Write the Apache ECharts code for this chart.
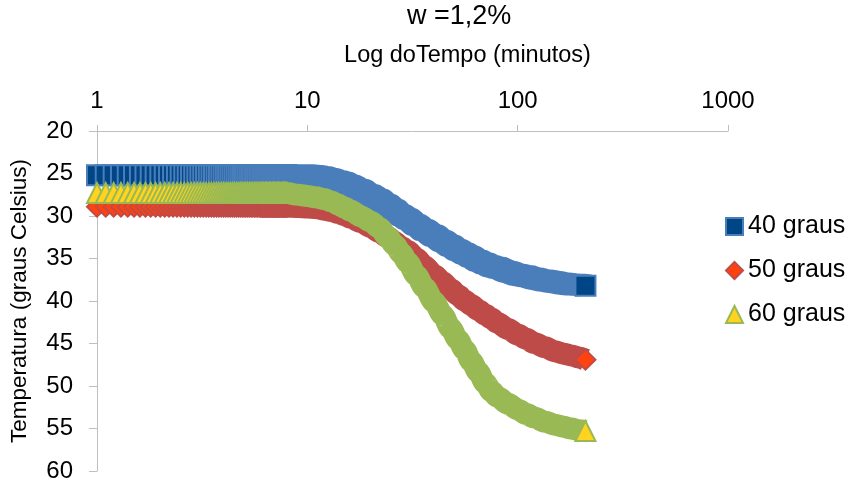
<!DOCTYPE html>
<html>
<head>
<meta charset="utf-8">
<script src="https://cdn.jsdelivr.net/npm/echarts@6/dist/echarts.min.js"></script>
<style>
html,body{margin:0;padding:0;background:#fff;}
#chart{width:852px;height:484px;}
</style>
</head>
<body>
<div id="chart"></div>
<script>
// Tempo (minutos) - leituras a cada 0,1 min no início, depois pontos lidos ao longo das curvas
const tempo = [
  1.0,1.1,1.2,1.3,1.4,1.5,1.6,1.7,1.8,1.9,
  2.0,2.1,2.2,2.3,2.4,2.5,2.6,2.7,2.8,2.9,
  3.0,3.1,3.2,3.3,3.4,3.5,3.6,3.7,3.8,3.9,
  4.0,4.1,4.2,4.3,4.4,4.5,4.6,4.7,4.8,4.9,
  5.0,5.1,5.2,5.3,5.4,5.5,5.6,5.7,5.8,5.9,
  6.0,6.1,6.2,6.3,6.4,6.5,6.6,6.7,6.8,6.9,
  7.0,7.1,7.2,7.3,7.4,7.5,7.6,7.7,7.8,7.9,
  8.0,
  9,10,11,12,13,14,15,16,
  18,20,22,24,26,28,30,
  33,36,40,44,48,52,56,60,
  65,70,75,80,90,100,
  110,120,135,150,165,180,195,210
];

const temp40 = [
  25.2,25.2,25.2,25.2,25.2,25.2,25.2,25.2,25.2,25.2,
  25.2,25.2,25.2,25.2,25.2,25.2,25.2,25.2,25.2,25.2,
  25.2,25.2,25.2,25.2,25.2,25.2,25.2,25.2,25.2,25.2,
  25.2,25.2,25.2,25.2,25.2,25.2,25.2,25.2,25.2,25.2,
  25.2,25.2,25.2,25.2,25.2,25.2,25.2,25.2,25.2,25.2,
  25.2,25.2,25.2,25.2,25.2,25.2,25.2,25.2,25.2,25.2,
  25.2,25.2,25.2,25.2,25.2,25.2,25.2,25.2,25.2,25.2,
  25.2,
  25.2,25.2,25.3,25.45,25.65,25.9,26.1,26.4,
  26.95,27.55,28.1,28.7,29.3,29.9,30.35,
  31.05,31.65,32.3,32.95,33.5,34.0,34.4,34.8,
  35.25,35.6,35.9,36.1,36.55,36.9,
  37.1,37.35,37.6,37.75,37.95,38.05,38.1,38.2
];

const temp50 = [
  28.9,28.9,28.9,28.9,28.9,28.9,28.9,28.9,28.9,28.9,
  28.9,28.9,28.9,28.9,28.9,28.9,28.9,28.9,28.9,28.9,
  28.9,28.9,28.9,28.9,28.9,28.9,28.9,28.9,28.9,28.9,
  28.9,28.9,28.9,28.9,28.9,28.9,28.9,28.9,28.9,28.9,
  28.9,28.9,28.9,28.9,28.9,28.9,28.9,28.9,28.9,28.9,
  28.9,28.9,28.9,28.9,28.9,28.9,28.9,28.9,28.9,28.9,
  28.9,28.9,28.9,28.9,28.9,28.9,28.9,28.9,28.9,28.9,
  28.9,
  28.95,29.0,29.05,29.25,29.4,29.65,29.9,30.2,
  30.7,31.3,31.9,32.45,33.05,33.65,34.1,
  35.0,35.9,36.9,37.75,38.6,39.3,39.95,40.45,
  41.05,41.6,42.05,42.55,43.3,43.95,
  44.45,44.95,45.45,45.9,46.2,46.4,46.65,46.9
];

const temp60 = [
  27.3,27.3,27.3,27.3,27.3,27.3,27.3,27.3,27.3,27.3,
  27.3,27.3,27.3,27.3,27.3,27.3,27.3,27.3,27.3,27.3,
  27.3,27.3,27.3,27.3,27.3,27.3,27.3,27.3,27.3,27.3,
  27.3,27.3,27.3,27.3,27.3,27.3,27.3,27.3,27.3,27.3,
  27.3,27.3,27.3,27.3,27.3,27.3,27.3,27.3,27.3,27.3,
  27.3,27.3,27.3,27.3,27.3,27.3,27.3,27.3,27.3,27.3,
  27.3,27.3,27.3,27.3,27.3,27.3,27.3,27.3,27.3,27.3,
  27.3,
  27.5,27.65,27.8,28.0,28.3,28.65,29.0,29.35,
  30.05,30.65,31.4,32.4,33.4,34.4,35.45,
  37.0,38.4,40.1,41.65,43.2,44.55,45.75,47.05,
  48.35,49.65,50.6,51.25,52.1,52.75,
  53.3,53.7,54.2,54.55,54.8,55.0,55.2,55.3
];

const nomesSeries = ['40 graus', '50 graus', '60 graus'];
const ticksY = [20, 25, 30, 35, 40, 45, 50, 55, 60];

const FONT = 'Liberation Sans';
// band: list of [lineWidth, shadowOffset] copies that imitate the sweep of overlapping markers
const estilos = [
  { symbol: 'rect',     fill: '#004586', line: '#4a7ebb', copias: [[10, -6], [10, 6]] },
  { symbol: 'diamond',  fill: '#ff420e', line: '#be4b48', copias: [[22, 0]] },
  { symbol: 'triangle', fill: '#ffd320', line: '#98b954', copias: [[22, 0]] }
];
const valores = [temp40, temp50, temp60];

const iInicioLinha = tempo.indexOf(6.0);
const iFimMarcadores = tempo.indexOf(8.0);

const series = [];
let z = 2;
valores.forEach((vals, k) => {
  const st = estilos[k];
  const pares = tempo.map((t, i) => [t, vals[i]]);
  const marcador = {
    symbol: st.symbol,
    symbolSize: 20,
    itemStyle: { color: st.fill, borderColor: st.line, borderWidth: 2, opacity: 1 },
    clip: false,
    silent: true
  };
  // marcadores individuais (trecho inicial onde se distinguem)
  series.push(Object.assign({
    name: nomesSeries[k],
    type: 'scatter',
    data: pares.slice(0, iFimMarcadores + 1),
    z: z++
  }, marcador));
  // faixa espessa formada pela sobreposição dos marcadores
  const linha = pares.slice(iInicioLinha);
  st.copias.forEach((c) => {
    const ls = { color: st.line, width: c[0], cap: 'butt', join: 'round' };
    if (c[1] !== 0) {
      ls.shadowColor = st.line;
      ls.shadowBlur = 0;
      ls.shadowOffsetX = c[1];
      ls.shadowOffsetY = -c[1];
    }
    series.push({
      name: nomesSeries[k],
      type: 'line',
      data: linha,
      smooth: 0.3,
      smoothMonotone: 'x',
      showSymbol: false,
      lineStyle: ls,
      itemStyle: { color: st.fill },
      clip: false,
      silent: true,
      z: z++
    });
  });
  // último ponto com o marcador completo
  series.push(Object.assign({
    name: nomesSeries[k],
    type: 'scatter',
    data: pares.slice(-1),
    z: z++
  }, marcador));
});

const chart = echarts.init(document.getElementById('chart'), null, { renderer: 'canvas' });
chart.setOption({
  animation: false,
  backgroundColor: '#ffffff',
  textStyle: { fontFamily: FONT },
  title: {
    text: 'w =1,2%',
    left: 407,
    top: 3,
    padding: 0,
    textStyle: { fontFamily: FONT, fontSize: 27, fontWeight: 'normal', color: '#000' }
  },
  legend: {
    data: nomesSeries,
    orient: 'vertical',
    left: 725,
    top: 214,
    itemWidth: 17,
    itemHeight: 17,
    itemGap: 19,
    itemTextGap: 4,
    padding: 0,
    selectedMode: false,
    textStyle: { fontFamily: FONT, fontSize: 25, color: '#000' }
  },
  grid: { left: 97, right: 124, top: 131, bottom: 13, containLabel: false },
  xAxis: {
    type: 'log',
    logBase: 10,
    min: 1,
    max: 1000,
    position: 'top',
    name: 'Log doTempo (minutos)',
    nameLocation: 'middle',
    nameGap: 63,
    nameTextStyle: { fontFamily: FONT, fontSize: 23.5, color: '#000', padding: [0, 0, 0, 110] },
    axisLine: { show: true, onZero: false, lineStyle: { color: '#bfbfbf', width: 1 } },
    axisTick: { show: true, length: 6, lineStyle: { color: '#bfbfbf' } },
    axisLabel: { fontFamily: FONT, fontSize: 24, color: '#000', margin: 18,
                 formatter: function (v) { return String(v); } },
    splitLine: { show: false },
    minorTick: { show: false }
  },
  yAxis: {
    type: 'value',
    inverse: true,
    min: ticksY[0],
    max: ticksY[ticksY.length - 1],
    interval: 5,
    name: 'Temperatura (graus Celsius)',
    nameLocation: 'middle',
    nameGap: 66,
    nameTextStyle: { fontFamily: FONT, fontSize: 22.5, color: '#000' },
    axisLine: { show: true, onZero: false, lineStyle: { color: '#bfbfbf', width: 1 } },
    axisTick: { show: true, length: 8, lineStyle: { color: '#bfbfbf' } },
    axisLabel: { fontFamily: FONT, fontSize: 24, color: '#000', margin: 24 },
    splitLine: { show: false }
  },
  series: series
});
</script>
</body>
</html>
